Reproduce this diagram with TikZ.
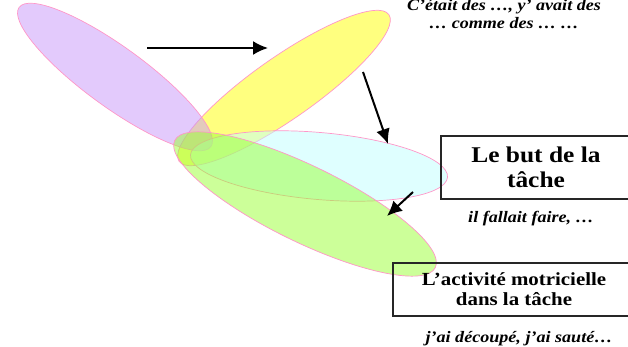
\documentclass[tikz,border=0pt]{standalone}
\usepackage{fontspec}
\setmainfont{Liberation Serif}[FakeStretch=1.13]
\usetikzlibrary{shapes.geometric,arrows.meta}
\definecolor{lila}{RGB}{200,150,250}
\definecolor{jaune}{RGB}{255,255,0}
\definecolor{ciel}{RGB}{192,255,255}
\definecolor{vert}{RGB}{153,255,51}
\definecolor{bord}{RGB}{255,150,200}

\begin{document}
\begin{tikzpicture}
[x=1pt,y=-1pt,
 blob/.style={draw=bord,line width=0.7pt,ellipse,inner sep=0pt,fill opacity=0.5},
 cadre/.style={draw=black!85,line width=1.2pt,align=center,inner sep=0pt},
 legende/.style={align=center,font=\fontsize{16}{18.4}\selectfont\bfseries\itshape},
 fleche/.style={-{Latex[length=15pt,width=14pt]},line width=2pt},
]
\useasboundingbox (0,0) rectangle (628,347);
\clip (0,0) rectangle (628,347);

% les ellipses
\node[blob,fill=jaune,minimum width=256pt,minimum height=62pt,rotate=35] (souvenir) at (284,88) {};
\node[blob,fill=lila,minimum width=237pt,minimum height=60pt,rotate=-36] (vecu) at (115,77) {};
\node[blob,fill=ciel,minimum width=258pt,minimum height=67pt,rotate=-5] (but) at (319,166) {};
\node[blob,fill=vert,minimum width=290pt,minimum height=76pt,rotate=-26] (activite) at (305,204) {};

% les textes
\node[legende] (souvenirtxt) at (504,14) {C’était des …, y’ avait des\\… comme des … …};
\node[cadre,minimum width=190pt,minimum height=63pt,font=\fontsize{22.5}{25}\selectfont\bfseries] (buttxt) at (536,167.5) {Le but de la\\tâche};
\node[legende] (butex) at (531,219) {il fallait faire, …};
\node[cadre,minimum width=242pt,minimum height=53pt,font=\fontsize{18.5}{20}\selectfont\bfseries] (activitetxt) at (514,289.5) {L’activité motricielle\\dans la tâche};
\node[legende] (activiteex) at (519,339) {j’ai découpé, j’ai sauté…};

% les fleches
\coordinate (f1a) at (147,48);
\coordinate (f1b) at (268,48);
\coordinate (f2a) at (363,72);
\coordinate (f2b) at (388,144);
\coordinate (f3a) at (413,192);
\coordinate (f3b) at (387,216);
\draw[fleche] (f1a) -- (f1b);
\draw[fleche] (f2a) -- (f2b);
\draw[fleche] (f3a) -- (f3b);
\end{tikzpicture}
\end{document}
